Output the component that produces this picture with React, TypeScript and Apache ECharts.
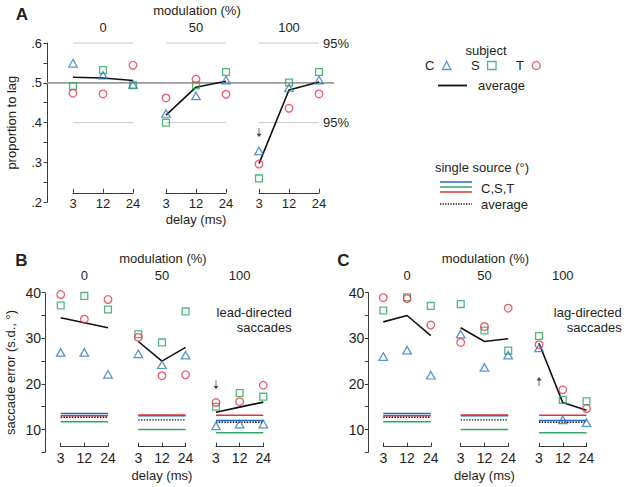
import React, { useEffect, useRef } from 'react';
import * as echarts from 'echarts';

// ---------- data ----------
const delays = ['3', '12', '24'];
const modulations = ['0', '50', '100'];

// Panel A: proportion to lag (3 modulation groups x 3 delays)
const propC = [0.549, 0.519, 0.496, 0.423, 0.467, 0.507, 0.329, 0.487, 0.507];
const propS = [0.492, 0.532, 0.494, 0.400, 0.494, 0.527, 0.260, 0.501, 0.527];
const propT = [0.474, 0.472, 0.544, 0.462, 0.509, 0.471, 0.296, 0.436, 0.472];
const propAvg = [0.514, 0.512, 0.506, 0.419, 0.489, 0.504, 0.297, 0.482, 0.502];
const chanceLevel = 0.5;
const ci95Upper = 0.6;
const ci95Lower = 0.4;

// Panel B: lead-directed saccade error (s.d., deg)
const leadC = [26.9, 26.9, 22.1, 26.6, 24.2, 26.3, 10.8, 11.2, 11.2];
const leadS = [37.2, 39.3, 36.3, 30.9, 29.1, 35.9, 15.0, 18.0, 17.2];
const leadT = [39.6, 34.2, 38.5, 30.2, 21.8, 22.0, 15.9, 16.1, 19.7];
const leadAvg = [34.5, 33.4, 32.3, 29.3, 25.0, 28.0, 13.8, 14.9, 16.0];

// Panel C: lag-directed saccade error (s.d., deg)
const lagC = [26.0, 27.4, 21.9, 30.9, 23.6, 26.3, 27.9, 12.1, 11.5];
const lagS = [36.1, 39.0, 37.1, 37.5, 31.7, 27.3, 30.5, 16.5, 16.2];
const lagT = [38.9, 38.7, 32.9, 29.1, 32.6, 36.6, 28.6, 18.7, 14.6];
const lagAvg = [33.6, 35.0, 30.6, 32.3, 29.3, 29.9, 28.9, 15.9, 14.2];

// single source error per modulation group
const singleC = [13.5, 13.0, 12.0];
const singleS = [11.7, 10.0, 9.3];
const singleT = [13.0, 13.2, 13.1];
const singleAvg = [12.7, 12.1, 11.6];

// arrows (group 100, delay 3)
const arrowA = 0.375;
const arrowB = 19.8;
const arrowC = 20.5;

// ---------- styles ----------
const FONT = "'Liberation Sans', Arial, Helvetica, sans-serif";
const TXT = '#231f20';
const AX = '#3a3a3a';
const M_BLUE = '#2f7cc2';
const M_GREEN = '#2aa45c';
const M_RED = '#e8354a';
const L_BLUE = '#2169c0';
const L_GREEN = '#33a863';
const L_RED = '#e8303a';
const AVG = '#111';
const ARROW_PATH = 'path://M3.4,0 L4.6,0 L4.6,10 L8,10 L4,16 L0,10 L3.4,10 Z';

const fmtProp = (v: number) => {
  const k = Math.round(v * 100);
  return k % 10 === 0 ? '.' + k / 10 : '';
};
const fmtErr = (v: number) => (Math.round(v) % 10 === 0 ? String(Math.round(v)) : '');

const panels = [
  {
    id: 'A', mainLeft: 47, mainWidth: 287, top: 43, height: 159.3,
    groupLefts: [73, 166, 259], groupWidth: 60,
    yMin: 0.2, yMax: 0.6, yInterval: 0.05, fmt: fmtProp, yFont: 13, yLabelMargin: 5,
    yName: 'proportion to lag', yNameGap: 29,
    xFont: 13, xLabelMargin: 4, bracketOffset: -9.5, delayGap: 20,
    C: propC, S: propS, T: propT, avg: propAvg, single: false,
    arrow: arrowA, arrowRotate: 0, modY: 27, titleY: 10, letter: { x: 22, y: 14 },
  },
  {
    id: 'B', mainLeft: 45, mainWidth: 250, top: 292.7, height: 159.6,
    groupLefts: [60.7, 138.3, 216], groupWidth: 47.3,
    yMin: 5, yMax: 40, yInterval: 5, fmt: fmtErr, yFont: 14, yLabelMargin: 4,
    yName: 'saccade error (s.d., °)', yNameGap: 28,
    xFont: 14, xLabelMargin: 4.5, bracketOffset: -5.6, delayGap: 22,
    C: leadC, S: leadS, T: leadT, avg: leadAvg, single: true,
    arrow: arrowB, arrowRotate: 0, modY: 275, titleY: 258.3, letter: { x: 21.5, y: 260 },
  },
  {
    id: 'C', mainLeft: 368.3, mainWidth: 250, top: 292.7, height: 159.6,
    groupLefts: [383.3, 460.7, 539], groupWidth: 47.5,
    yMin: 5, yMax: 40, yInterval: 5, fmt: fmtErr, yFont: 14, yLabelMargin: 4,
    yName: '', yNameGap: 28,
    xFont: 14, xLabelMargin: 4.5, bracketOffset: -5.6, delayGap: 22,
    C: lagC, S: lagS, T: lagT, avg: lagAvg, single: true,
    arrow: arrowC, arrowRotate: 180, modY: 275, titleY: 258.3, letter: { x: 343.5, y: 260 },
  },
];

function txt(text: string, x: number, y: number, align = 'center', size = 13, weight = 'normal') {
  return {
    type: 'text', x, y, silent: true,
    style: { text, fill: TXT, fontSize: size, fontFamily: FONT, fontWeight: weight, align, verticalAlign: 'middle' },
  };
}
function hline(x1: number, x2: number, y: number, color: string, width = 1.5, dash?: number[]) {
  return {
    type: 'line', silent: true,
    shape: { x1, y1: y, x2, y2: y },
    style: { stroke: color, lineWidth: width, lineDash: dash },
  };
}

function buildOption() {
  const grid: any[] = [];
  const xAxis: any[] = [];
  const yAxis: any[] = [];
  const series: any[] = [];
  const graphic: any[] = [];
  const axisText = { color: TXT, fontFamily: FONT };

  panels.forEach((p) => {
    const mi = grid.length;
    grid.push({ left: p.mainLeft, top: p.top, width: p.mainWidth, height: p.height });
    xAxis.push({ gridIndex: mi, type: 'value', min: 0, max: 1, show: false });
    yAxis.push({
      gridIndex: mi, type: 'value', min: p.yMin, max: p.yMax, interval: p.yInterval,
      axisLine: { show: true, lineStyle: { color: AX, width: 1 } },
      axisTick: { show: true, length: 3.5, lineStyle: { color: AX } },
      axisLabel: { formatter: p.fmt, fontSize: p.yFont, margin: p.yLabelMargin, ...axisText },
      splitLine: { show: false },
      name: p.yName, nameLocation: 'middle', nameGap: p.yNameGap,
      nameTextStyle: { fontSize: 13, ...axisText },
    });
    if (p.id === 'A') {
      series.push({
        type: 'line', xAxisIndex: mi, yAxisIndex: mi, silent: true, z: 1,
        data: [[0, chanceLevel], [1, chanceLevel]], symbol: 'none',
        lineStyle: { color: '#9b9b9b', width: 1.6 },
      });
    }

    // title texts
    const centers = p.groupLefts.map((l) => l + p.groupWidth / 2);
    graphic.push(txt('modulation (%)', centers[1] + 1, p.titleY));
    modulations.forEach((m, g) => graphic.push(txt(m, centers[g], p.modY)));
    graphic.push(txt(p.id, p.letter.x, p.letter.y, 'center', 17, 'bold'));

    p.groupLefts.forEach((left, g) => {
      const gi = grid.length;
      grid.push({ left, top: p.top, width: p.groupWidth, height: p.height });
      xAxis.push({
        gridIndex: gi, type: 'category', data: delays, boundaryGap: false,
        position: 'bottom', offset: p.bracketOffset,
        axisLine: { show: true, lineStyle: { color: AX, width: 1 } },
        axisTick: { show: true, inside: true, length: 4, interval: 0, lineStyle: { color: AX } },
        axisLabel: { show: true, interval: 0, fontSize: p.xFont, margin: p.xLabelMargin, ...axisText },
        splitLine: { show: false },
        name: g === 1 ? 'delay (ms)' : '', nameLocation: 'middle', nameGap: p.delayGap,
        nameTextStyle: { fontSize: 13, ...axisText },
      });
      yAxis.push({ gridIndex: gi, type: 'value', min: p.yMin, max: p.yMax, show: false });
      const base = { xAxisIndex: gi, yAxisIndex: gi };
      const slice = (arr: number[]) => arr.slice(g * 3, g * 3 + 3);

      if (p.id === 'A') {
        [ci95Upper, ci95Lower].forEach((v) => {
          series.push({
            ...base, type: 'line', silent: true, z: 1, symbol: 'none', clip: false,
            data: delays.map((d) => [d, v]),
            lineStyle: { color: '#c9c9c9', width: 1 },
            endLabel: g === 2 ? { show: true, formatter: '95%', fontSize: 13, distance: 4, ...axisText } : { show: false },
          });
        });
      }
      if (p.single) {
        const ss: [string, number[], string, string][] = [
          ['C single', singleC, L_BLUE, 'solid'],
          ['T single', singleT, L_RED, 'solid'],
          ['S single', singleS, L_GREEN, 'solid'],
          ['single average', singleAvg, AVG, 'dotted'],
        ];
        ss.forEach(([name, arr, color, type]) => {
          series.push({
            ...base, type: 'line', name, silent: true, z: 2, symbol: 'none', clip: false,
            data: delays.map((d) => [d, arr[g]]),
            itemStyle: { color },
            lineStyle: { color, width: type === 'dotted' ? 1.4 : 1.5, type },
          });
        });
      }
      series.push({
        ...base, type: 'line', name: 'average', z: 3, symbol: 'none', clip: false, silent: true,
        data: slice(p.avg), itemStyle: { color: AVG }, lineStyle: { color: AVG, width: 1.6 },
      });
      const marks: [string, number[], string, any, any][] = [
        ['C', p.C, M_BLUE, 'triangle', [8.5, 7.5]],
        ['S', p.S, M_GREEN, 'rect', 6.8],
        ['T', p.T, M_RED, 'circle', 7.6],
      ];
      marks.forEach(([name, arr, color, symbol, size]) => {
        series.push({
          ...base, type: 'scatter', name, z: 4, clip: false, silent: true,
          data: slice(arr), symbol, symbolSize: size,
          itemStyle: { color: 'none', borderColor: color, borderWidth: 1.3 },
        });
      });
      if (g === 2) {
        series.push({
          ...base, type: 'scatter', name: 'arrow', z: 5, clip: false, silent: true,
          data: [[delays[0], p.arrow]], symbol: ARROW_PATH, symbolSize: [5, 9],
          symbolRotate: p.arrowRotate, itemStyle: { color: AVG },
        });
      }
    });
  });

  // panel side notes
  graphic.push(txt('lead-directed', 291.7, 312.7, 'right'));
  graphic.push(txt('saccades', 291.7, 327.3, 'right'));
  graphic.push(txt('lag-directed', 621.7, 312.7, 'right'));
  graphic.push(txt('saccades', 621.7, 327.3, 'right'));

  // legends (text blocks)
  graphic.push(txt('subject', 486, 50));
  graphic.push(txt('single source (°)', 482, 167));
  graphic.push(hline(440, 472, 182, L_BLUE));
  graphic.push(hline(440, 472, 187, L_GREEN));
  graphic.push(hline(440, 472, 192, L_RED));
  graphic.push(txt('C,S,T', 481, 188, 'left'));
  graphic.push(hline(440, 472, 204, AVG, 1.3, [1.3, 1.3]));
  graphic.push(txt('average', 481, 204, 'left'));

  return {
    animation: false,
    backgroundColor: '#fff',
    textStyle: { fontFamily: FONT },
    grid, xAxis, yAxis, series, graphic,
    legend: [
      {
        data: ['C', 'S', 'T'], left: 425, top: 59, padding: 0, orient: 'horizontal', align: 'right',
        itemGap: 17.5, itemWidth: 8.5, itemHeight: 8, selectedMode: false,
        itemStyle: { borderWidth: 1.3 },
        textStyle: { fontSize: 13, color: TXT, fontFamily: FONT, padding: [0, 3, 0, 0] },
      },
      {
        data: [{ name: 'average', icon: 'rect' }], left: 438, top: 79, padding: 0,
        itemWidth: 29, itemHeight: 1.8,
        selectedMode: false, itemStyle: { color: AVG, borderWidth: 0 },
        textStyle: { fontSize: 13, color: TXT, fontFamily: FONT, padding: [0, 0, 0, 6] },
      },
    ],
  };
}

export default function App() {
  const ref = useRef<HTMLDivElement>(null);
  useEffect(() => {
    const chart = echarts.init(ref.current!, null, { renderer: 'svg' });
    chart.setOption(buildOption() as any);
    return () => chart.dispose();
  }, []);
  return (
    <div
      ref={ref}
      style={{ position: 'fixed', left: 0, top: 0, width: 626, height: 487, background: '#fff' }}
    />
  );
}
